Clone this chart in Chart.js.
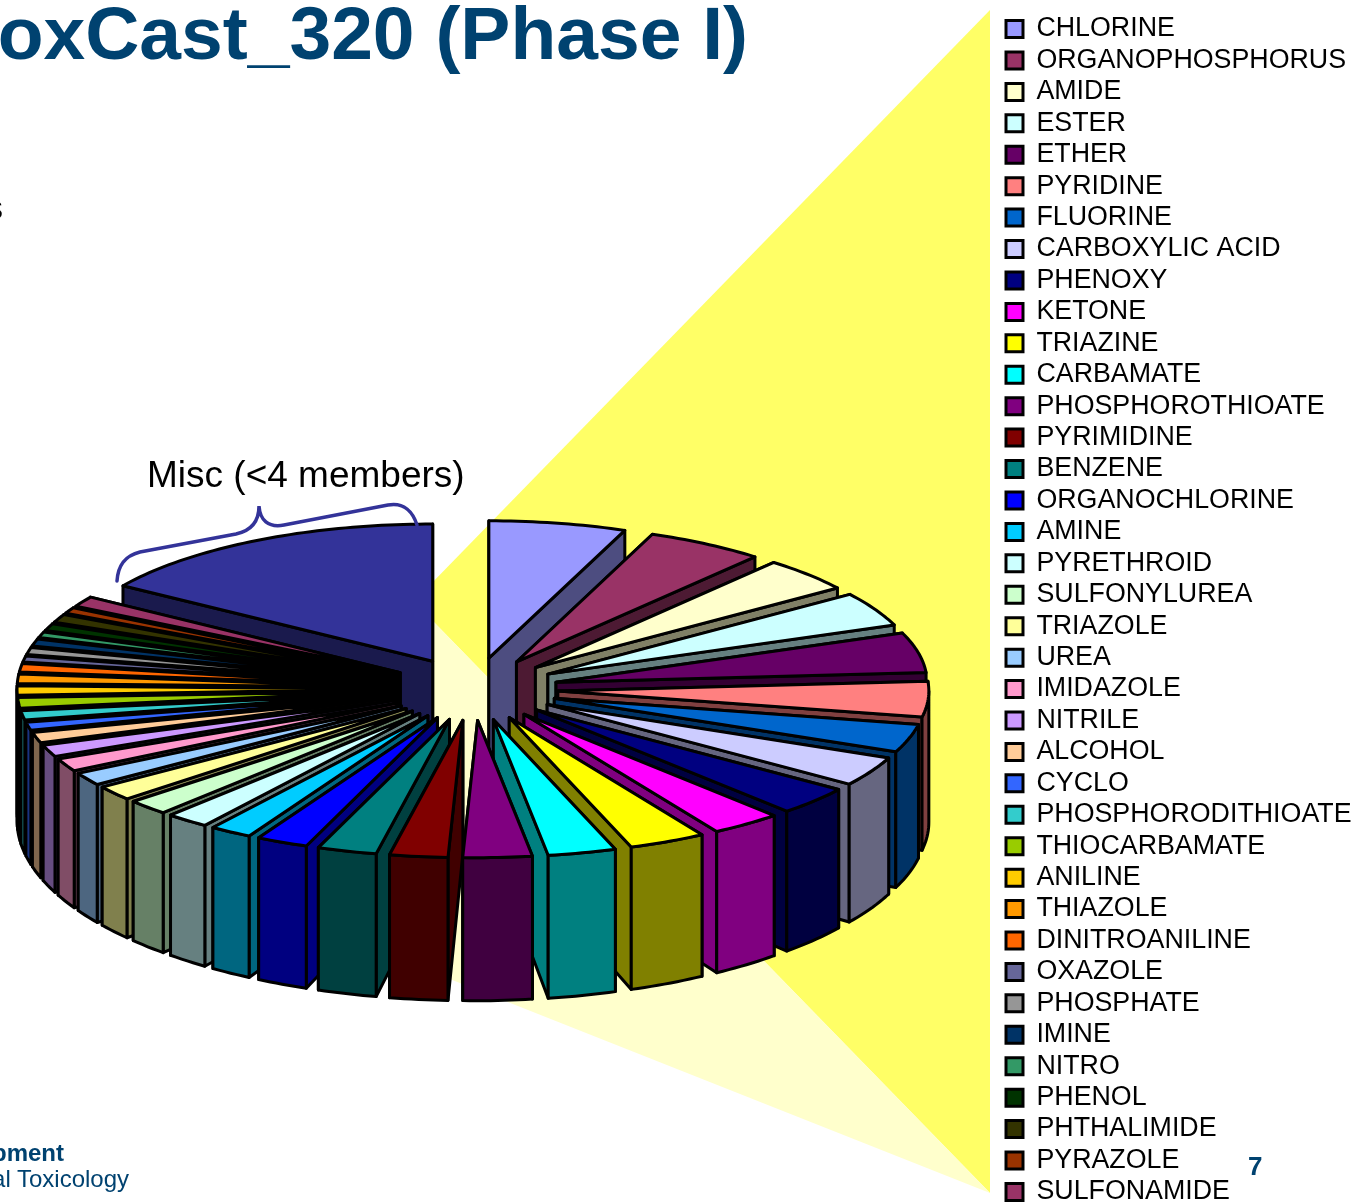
<!DOCTYPE html>
<html>
<head>
<meta charset="utf-8">
<script src="https://cdn.jsdelivr.net/npm/chart.js@4"></script>
<style>
html,body{margin:0;padding:0;background:#fff;overflow:hidden;width:1358px;height:1202px;}
#wrap{position:relative;width:1358px;height:1202px;overflow:hidden;font-family:"Liberation Sans",Arial,sans-serif;}
canvas{position:absolute;left:0;top:0;}
.t{position:absolute;white-space:nowrap;line-height:1;}
</style>
</head>
<body>
<div id="wrap">
<canvas id="c" width="1358" height="1280"></canvas>
<div class="t" style="right:610px;top:-4px;font-size:75px;font-weight:bold;font-kerning:none;color:#004270;">ToxCast_320 (Phase I)</div>
<div class="t" style="right:1355px;top:190px;font-size:34px;color:#000;">s</div>
<div class="t" style="left:147px;top:456px;font-size:37px;color:#000;">Misc (&lt;4 members)</div>
<div class="t" style="right:1294px;top:1141px;font-size:24px;font-weight:bold;color:#004270;">Development</div>
<div class="t" style="right:1229px;top:1167px;font-size:24px;color:#004270;">Computational Toxicology</div>
<div class="t" style="left:1248px;top:1153px;font-size:26px;font-weight:bold;color:#004270;">7</div>
</div>
<script>
const categories = ["CHLORINE","ORGANOPHOSPHORUS","AMIDE","ESTER","ETHER","PYRIDINE","FLUORINE","CARBOXYLIC ACID","PHENOXY","KETONE","TRIAZINE","CARBAMATE","PHOSPHOROTHIOATE","PYRIMIDINE","BENZENE","ORGANOCHLORINE","AMINE","PYRETHROID","SULFONYLUREA","TRIAZOLE","UREA","IMIDAZOLE","NITRILE","ALCOHOL","CYCLO","PHOSPHORODITHIOATE","THIOCARBAMATE","ANILINE","THIAZOLE","DINITROANILINE","OXAZOLE","PHOSPHATE","IMINE","NITRO","PHENOL","PHTHALIMIDE","PYRAZOLE","SULFONAMIDE","Misc"];
const sliceValues = [21.5,18.5,14.5,14.5,17,15,12,12.5,12.1,11.1,12.1,10.7,10.8,9.1,9.3,8.1,6.6,6.8,6.6,6.2,5.5,5.5,5,4.5,3.5,4,4.5,4,4,3.5,2.5,3,3,2.5,3,3.5,2.5,4.4,56.6];
const sliceColors = ["#9999FF","#993366","#FFFFCC","#CCFFFF","#660066","#FF8080","#0066CC","#CCCCFF","#000080","#FF00FF","#FFFF00","#00FFFF","#800080","#800000","#008080","#0000FF","#00CCFF","#CCFFFF","#CCFFCC","#FFFF99","#99CCFF","#FF99CC","#CC99FF","#FFCC99","#3366FF","#33CCCC","#99CC00","#FFCC00","#FF9900","#FF6600","#666699","#969696","#003366","#339966","#003300","#333300","#993300","#993366","#333399"];

const TARGET_X = 473, TARGET_Y = 689, SQUASH = 0.37, EXPLODE = 85, RADIUS = 371;
const OUTLINE = 3;

function shade(hex){
  const n = parseInt(hex.slice(1),16);
  const f = v => Math.round(v/2);
  return `rgb(${f(n>>16&255)},${f(n>>8&255)},${f(n&255)})`;
}
function wallHeight(y){ return 143 - (857 - y) * 0.07; }

function shifts(chart){
  const a = chart.chartArea;
  return {dx: TARGET_X - (a.left + a.right) / 2, dy: TARGET_Y - (a.top + a.bottom) / 2 * SQUASH};
}
function geometry(chart){
  const {dx, dy} = shifts(chart);
  return chart.getDatasetMeta(0).data.map((arc,i) => {
    const half = (arc.startAngle + arc.endAngle) / 2;
    const pt = (ang, r) => ({x: arc.x + Math.cos(ang) * r + dx, y: (arc.y + Math.sin(ang) * r) * SQUASH + dy});
    return {i, half, start: arc.startAngle, end: arc.endAngle, r: arc.outerRadius, pt, color: sliceColors[i]};
  });
}
function arcPoints(g, a, b){
  const n = Math.max(2, Math.ceil((b - a) / 0.02));
  const pts = [];
  for (let j = 0; j <= n; j++) pts.push(g.pt(a + (b - a) * j / n, g.r));
  return pts;
}
function drop(p){ return {x: p.x, y: p.y + wallHeight(p.y)}; }
function polygon(ctx, pts, fill){
  ctx.beginPath();
  pts.forEach((p,j) => j ? ctx.lineTo(p.x,p.y) : ctx.moveTo(p.x,p.y));
  ctx.closePath();
  if (fill) { ctx.fillStyle = fill; ctx.fill(); }
  ctx.stroke();
}
const pie3d = {
  id: 'pie3d',
  afterDatasetsUpdate(chart){
    chart.getDatasetMeta(0).data.forEach(arc => {
      const half = (arc.startAngle + arc.endAngle) / 2;
      arc.x += Math.cos(half) * EXPLODE;
      arc.y += Math.sin(half) * EXPLODE;
    });
  },
  beforeDraw(chart){
    const ctx = chart.ctx;
    ctx.save();
    ctx.fillStyle = '#FFFF66';
    ctx.beginPath(); ctx.moveTo(990,10); ctx.lineTo(427,588); ctx.lineTo(427,615); ctx.lineTo(990,1193); ctx.closePath(); ctx.fill();
    ctx.fillStyle = '#FFFFCC';
    ctx.beginPath(); ctx.moveTo(427,615); ctx.lineTo(990,1193); ctx.lineTo(427,970); ctx.closePath(); ctx.fill();
    ctx.restore();
  },
  afterLayout(chart){
    const lg = chart.legend;
    lg.left = 1006 - lg.options.labels.padding;
    lg.top = 11;
  },
  beforeDatasetsDraw(chart){
    const ctx = chart.ctx;
    const geo = geometry(chart);
    ctx.save();
    ctx.strokeStyle = '#000'; ctx.lineWidth = OUTLINE; ctx.lineJoin = 'round';
    const order = geo.slice().sort((p,q) => Math.sin(p.half) - Math.sin(q.half));
    order.forEach(g => {
      const apex = g.pt(0,0), wall = shade(g.color);
      const edges = [g.pt(g.start,g.r), g.pt(g.end,g.r)].sort((p,q) => p.y - q.y);
      edges.forEach(e => polygon(ctx, [apex, e, drop(e), drop(apex)], wall));
      const a = Math.max(g.start, 0), b = Math.min(g.end, Math.PI);
      if (b > a) {
        const top = arcPoints(g, a, b);
        polygon(ctx, top.concat(top.map(drop).reverse()), wall);
      }
    });
    ctx.restore();
    ctx.save();
    const s = shifts(chart);
    ctx.setTransform(1, 0, 0, SQUASH, s.dx, s.dy);
  },
  afterDatasetsDraw(chart){
    const ctx = chart.ctx;
    ctx.restore();
    ctx.save();
    ctx.strokeStyle = '#000'; ctx.lineWidth = OUTLINE; ctx.lineJoin = 'round';
    geometry(chart).forEach(g => {
      polygon(ctx, [g.pt(0,0)].concat(arcPoints(g, g.start, g.end)));
    });
    ctx.restore();
  },
  afterDraw(chart){
    const ctx = chart.ctx;
    ctx.save();
    ctx.strokeStyle = '#333399'; ctx.lineWidth = 3.5; ctx.lineCap = 'round';
    ctx.beginPath();
    ctx.moveTo(117,581);
    ctx.bezierCurveTo(118,566,124,556,140,552);
    ctx.lineTo(236,534);
    ctx.bezierCurveTo(250,531,259,522,259,506);
    ctx.bezierCurveTo(260,520,268,528,284,525);
    ctx.lineTo(388,505);
    ctx.bezierCurveTo(404,502,413,512,417,525);
    ctx.stroke();
    ctx.restore();
  }
};
new Chart(document.getElementById('c'), {
  type: 'pie',
  data: {
    labels: categories,
    datasets: [{
      data: sliceValues,
      backgroundColor: sliceColors,
      borderWidth: 0,
      clip: false
    }]
  },
  options: {
    responsive: false,
    animation: false,
    events: [],
    radius: RADIUS,
    layout: {padding: 0},
    plugins: {
      tooltip: {enabled: false},
      title: {display: false},
      legend: {
        display: true,
        position: 'right',
        align: 'start',
        labels: {
          color: '#000',
          boxWidth: 17,
          boxHeight: 17,
          padding: 4.63,
          font: {family: '"Liberation Sans"', size: 26.8},
          generateLabels(chart){
            return Chart.overrides.pie.plugins.legend.labels.generateLabels(chart)
              .filter(l => l.text !== 'Misc')
              .map(l => Object.assign(l, {strokeStyle: '#000', lineWidth: 3}));
          }
        }
      }
    }
  },
  plugins: [pie3d]
});
</script>
</body>
</html>
